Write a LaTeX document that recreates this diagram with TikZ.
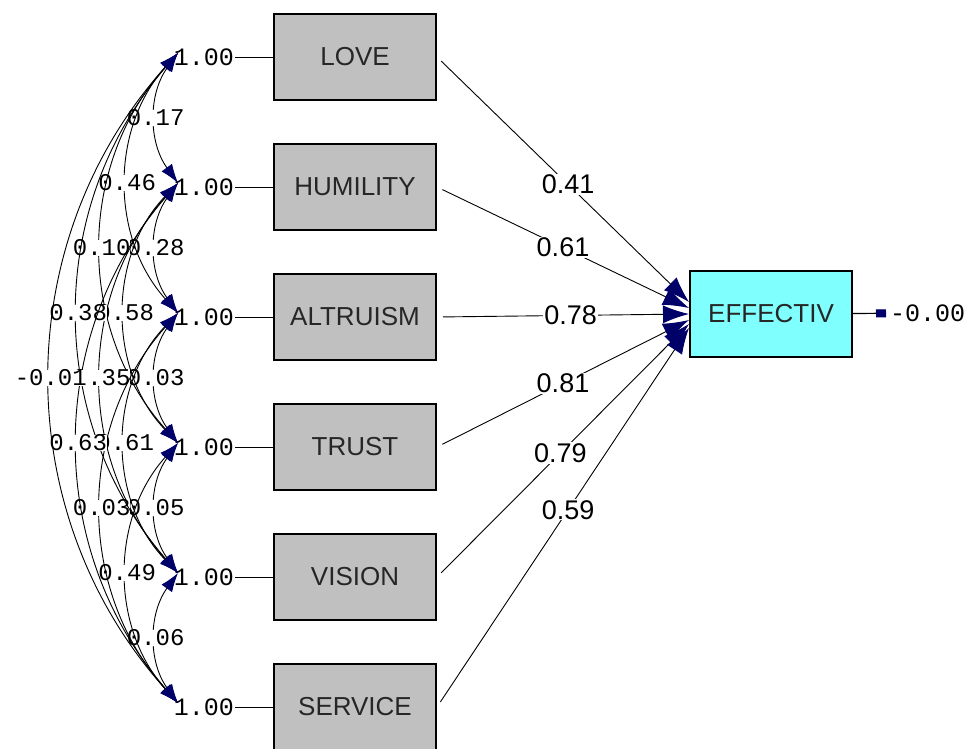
\documentclass[tikz,border=0pt]{standalone}
\usepackage{fontspec}
\setmainfont{Liberation Sans}
\newfontfamily\numfont{Liberation Mono}
\usetikzlibrary{arrows.meta}
\definecolor{boxgray}{RGB}{192,192,192}
\definecolor{effcyan}{RGB}{128,255,255}
\definecolor{tipnavy}{RGB}{0,0,105}

\begin{document}
\begin{tikzpicture}
		[
			x=1pt, y=-1pt,
			obs/.style = {rectangle, draw=black, line width=2pt, fill=boxgray, minimum width=162pt, minimum height=86pt, font=\fontsize{26}{30}\selectfont, text=black!85},
			effnode/.style = {obs, fill=effcyan},
			num/.style = {inner sep=1pt, font=\numfont\fontsize{25}{28}\selectfont},
			covlab/.style = {inner sep=0pt, fill=white, font=\numfont\fontsize{24}{27}\selectfont},
			plab/.style = {inner sep=1pt, fill=white, font=\fontsize{27}{30}\selectfont},
			cov/.style = {line width=0.9pt, {Latex[length=19pt,width=13pt,color=tipnavy]}-{Latex[length=19pt,width=13pt,color=tipnavy]}},
			path/.style = {line width=0.9pt, shorten <=6pt, -{Latex[length=26pt,width=18pt,color=tipnavy]}},
			err/.style = {line width=1.2pt, shorten >=3pt, -{Rectangle[length=10pt,width=8pt,color=tipnavy]}},
		]
		\useasboundingbox (0,0) rectangle (969,748);

		% observed variables
		\node[obs] (love) 	  at ( 355,  57 ) {LOVE};
		\node[obs] (humility) at ( 355, 187 ) {HUMILITY};
		\node[obs] (altruism) at ( 355, 317 ) {ALTRUISM};
		\node[obs] (trust) 	  at ( 355, 447 ) {TRUST};
		\node[obs] (vision)   at ( 355, 577 ) {VISION};
		\node[obs] (service)  at ( 355, 707 ) {SERVICE};
		\node[effnode] (effectiv) at ( 771, 314 ) {EFFECTIV};

		% variances
		\foreach \k/\obsname in {1/love,2/humility,3/altruism,4/trust,5/vision,6/service}
		{
		\node[num] (v\k) at ( 204, 57+130*\k-130 ) {1.00};
		\coordinate (c\k) at ( 178, 53+130*\k-130 );
		\draw[line width=0.9pt] (v\k) -- (\obsname);
		}

		% covariances
		\foreach \a/\b/\ang/\val in {1/2/36/0.17,2/3/36/0.28,3/4/36/0.03,4/5/36/0.05,5/6/36/0.06,1/3/42/0.46,2/4/44/0.58,3/5/44/0.61,4/6/42/0.49,1/4/42/0.10,2/5/42/0.35,3/6/42/0.03,1/5/41/0.38,2/6/41/0.63,1/6/42/-0.01}
		\draw[cov] (c\a) to[bend right=\ang] node[covlab] {\val} (c\b);

		% paths to effectiv
		\foreach \from/\dy/\val/\p in {love/12/0.41/0.52,humility/6/0.61/0.5,altruism/0/0.78/0.53,trust/-6/0.81/0.5,vision/-10/0.79/0.49,service/-14/0.59/0.52}
		\draw[path] (\from.east) -- node[pos=\p, plab] {\val} ([yshift=\dy pt]effectiv.west);

		% error
		\node[num, anchor=west] (errlab) at ( 889, 313 ) {-0.00};
		\draw[err] (effectiv) -- (errlab);

		\end{tikzpicture}
\end{document}
